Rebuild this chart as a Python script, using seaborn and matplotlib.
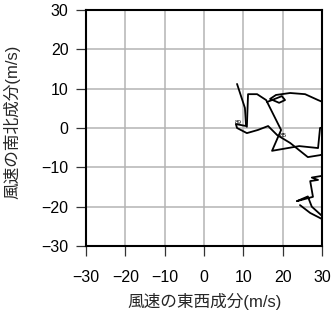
import matplotlib
matplotlib.use("Agg")
import matplotlib.pyplot as plt
import seaborn as sns
import pandas as pd

sns.set_theme(style="white")
plt.rcParams['font.family'] = ['Liberation Sans', 'Noto Sans CJK JP', 'DejaVu Sans']
plt.rcParams['axes.unicode_minus'] = True

# wind components (m/s), drawn as separate path segments
seg1_u = [8.4, 10.4, 10.7, 8.1, 8.4, 10.9, 13.7, 16.3, 18.6, 21.9, 26.4, 29.5, 34.0]
seg1_v = [11.2, 5.1, 0.5, 1.0, 0.0, -1.3, -0.5, 0.5, -1.8, -3.8, -7.4, -6.9, -5.5]
seg2_u = [34.0, 29.5, 29.0, 24.2, 17.3, 19.6, 15.8, 13.5, 11.2, 10.9]
seg2_v = [1.0, 0.0, -5.1, -4.6, -5.8, -0.5, 7.1, 8.6, 8.6, 0.3]
seg3_u = [16.0, 19.8, 20.6, 19.1, 16.8, 18.3, 21.9, 25.7, 29.0, 34.0]
seg3_v = [6.6, 8.1, 7.1, 6.4, 7.4, 8.4, 8.9, 8.6, 7.1, 5.0]
seg4_u = [34.0, 27.4, 29.0, 27.0, 27.7, 23.6, 26.4, 27.4, 30.5, 34.0]
seg4_v = [-11.5, -12.6, -13.2, -13.5, -17.5, -18.6, -17.4, -20.0, -22.8, -24.0]
seg5_u = [24.4, 27.0, 30.5, 34.0]
seg5_v = [-19.6, -21.6, -23.4, -24.5]

marks = ["89", "85"]
marks_u = [8.6, 20.1]
marks_v = [1.3, -1.8]

ticks = [-30, -20, -10, 0, 10, 20, 30]
tick_labels = ["\u221230", "\u221220", "\u221210", "0", "10", "20", "30"]

frames = []
for i, (uu, vv) in enumerate([(seg1_u, seg1_v), (seg2_u, seg2_v), (seg3_u, seg3_v),
                               (seg4_u, seg4_v), (seg5_u, seg5_v)]):
    frames.append(pd.DataFrame({"u": uu, "v": vv, "seg": i, "order": range(len(uu))}))
df = pd.concat(frames, ignore_index=True)

fig = plt.figure(figsize=(3.32, 3.19), dpi=100)
ax = fig.add_axes([86/332, 1-246/319, 236/332, 236/319])

sns.lineplot(data=df, x="u", y="v", units="seg", estimator=None, sort=False,
             color="black", linewidth=1.3, ax=ax, legend=False)

for t, x, y in zip(marks, marks_u, marks_v):
    ax.text(x, y, t, fontsize=4.5, ha="center", va="center", color="black")

ax.set_xlim(-30, 30)
ax.set_ylim(-30, 30)
ax.set_xticks(ticks)
ax.set_yticks(ticks)
ax.set_xticklabels(tick_labels)
ax.set_yticklabels(tick_labels)
ax.grid(True, color="#b4b4b4", linewidth=1.1)
ax.set_axisbelow(True)
for s in ax.spines.values():
    s.set_color("black")
    s.set_linewidth(1.5)
ax.tick_params(direction="out", length=7, width=0.9, color="#333333",
               labelsize=11.5, left=True, bottom=True, labelcolor="black")
ax.tick_params(axis="x", pad=10)
ax.tick_params(axis="y", pad=5.5)
ax.set_xlabel("")
ax.set_ylabel("")

fig.text(205/332, 1-302/319, "風速の東西成分(m/s)", ha="center", va="center", fontsize=12)
fig.text(12/332, 1-122/319, "風速の南北成分(m/s)", ha="center", va="center",
         fontsize=12, rotation=90)

fig.savefig("out.png", dpi=100)
